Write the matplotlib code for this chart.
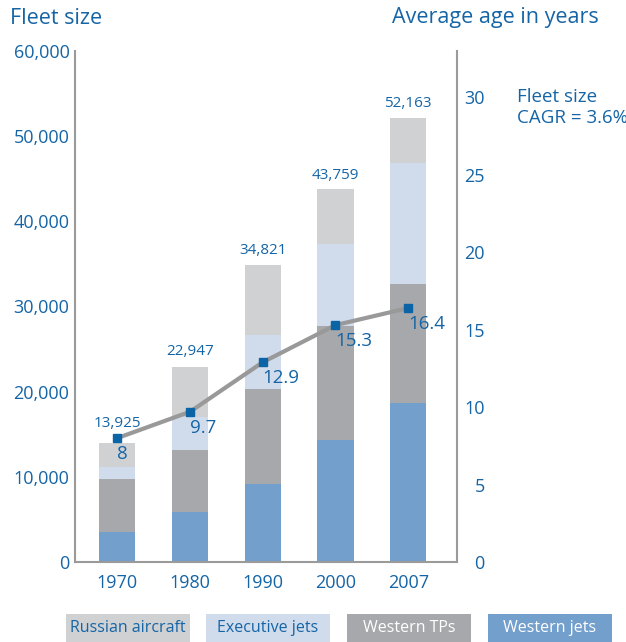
import numpy as np
import matplotlib.pyplot as plt
from matplotlib.patches import Rectangle

plt.rcParams['font.family'] = ['Open Sans', 'DejaVu Sans']

YEARS = ["1970", "1980", "1990", "2000", "2007"]
WESTERN_JETS = [3500, 5900, 9150, 14300, 18700]
WESTERN_TPS = [6200, 7200, 11150, 13400, 14000]
EXECUTIVE_JETS = [1500, 3900, 6300, 9600, 14100]
TOTALS = [13925, 22947, 34821, 43759, 52163]
AVG_AGE = [8, 9.7, 12.9, 15.3, 16.4]
LEGEND_LABELS = ["Russian aircraft", "Executive jets", "Western TPs", "Western jets"]

BLUE = "#1565a6"
MARKER_BLUE = "#0a64a5"
SPINE_GRAY = "#9a9a9a"
COLORS = {
    "Russian aircraft": "#d0d1d3",
    "Executive jets": "#d0dcec",
    "Western TPs": "#a7a8ab",
    "Western jets": "#739fcc",
}

W, H = 626, 642
fig = plt.figure(figsize=(W / 100, H / 100), dpi=100)
ax = fig.add_axes([75 / W, 1 - 562 / H, (457 - 75) / W, (562 - 51) / H])

x = np.arange(len(YEARS))
russian = np.array(TOTALS) - np.array(WESTERN_JETS) - np.array(WESTERN_TPS) - np.array(EXECUTIVE_JETS)
bottom = np.zeros(len(YEARS))
for name, vals in [("Western jets", WESTERN_JETS), ("Western TPs", WESTERN_TPS),
                   ("Executive jets", EXECUTIVE_JETS), ("Russian aircraft", russian)]:
    ax.bar(x, vals, width=0.5, bottom=bottom, color=COLORS[name], linewidth=0)
    bottom += np.array(vals)

# pixel gap between bar top and total label (first one sits above the marker)
pads = [20, 15, 15, 14, 14]
for xi, tot, pad in zip(x, TOTALS, pads):
    ax.annotate(f"{tot:,}", (xi, tot), xytext=(0, pad * 0.72), textcoords="offset points",
                ha="center", va="center", color=BLUE, fontsize=11)

ax.set_xlim(-0.58, 4.67)
ax.set_ylim(0, 60000)
ax.set_yticks(range(0, 60001, 10000))
ax.set_yticklabels([f"{v:,}" for v in range(0, 60001, 10000)])
ax.set_xticks(x)
ax.set_xticklabels(YEARS)
ax.tick_params(axis="y", length=0, pad=4, labelcolor=BLUE, labelsize=13)
ax.tick_params(axis="x", length=0, pad=9, labelcolor=BLUE, labelsize=13)
for s in ["top", "right"]:
    ax.spines[s].set_visible(False)
for s in ["left", "bottom"]:
    ax.spines[s].set_color(SPINE_GRAY)
    ax.spines[s].set_linewidth(1.5)

ax2 = ax.twinx()
ax2.plot(x, AVG_AGE, color="#999999", linewidth=3, marker="s", markersize=6,
         markerfacecolor=MARKER_BLUE, markeredgecolor=MARKER_BLUE, zorder=3)
for xi, age in zip(x, AVG_AGE):
    ax2.annotate(f"{age:g}", (xi, age), xytext=(0, -11.5), textcoords="offset points",
                 ha="left", va="center", color=BLUE, fontsize=13.5)
ax2.set_ylim(0, 33)
ax2.set_yticks(range(0, 31, 5))
ax2.tick_params(axis="y", length=0, pad=20, labelcolor=BLUE, labelsize=13)
for lab in ax2.get_yticklabels():
    lab.set_horizontalalignment("right")
for s in ["top", "left", "bottom"]:
    ax2.spines[s].set_visible(False)
ax2.spines["right"].set_color(SPINE_GRAY)
ax2.spines["right"].set_linewidth(1.5)

fig.text(10 / W, 1 - 18 / H, "Fleet size", color=BLUE, fontsize=15.5, va="center")
fig.text(392 / W, 1 - 18 / H, "Average age in years", color=BLUE, fontsize=15.5, va="center")
fig.text(517 / W, 1 - 107.5 / H, "Fleet size\nCAGR = 3.6%", color=BLUE, fontsize=13.5,
         va="center", linespacing=1.2)

box_left = [66, 206, 347, 488]
text_colors = [BLUE, BLUE, "white", "white"]
for lx, name, tc in zip(box_left, LEGEND_LABELS, text_colors):
    fig.patches.append(Rectangle((lx / W, 0), 124 / W, 28 / H, transform=fig.transFigure,
                                 facecolor=COLORS[name], edgecolor="none"))
    fig.text((lx + 62) / W, 14 / H, name, color=tc, fontsize=11.5, ha="center", va="center")

fig.savefig("out.png", dpi=100)
